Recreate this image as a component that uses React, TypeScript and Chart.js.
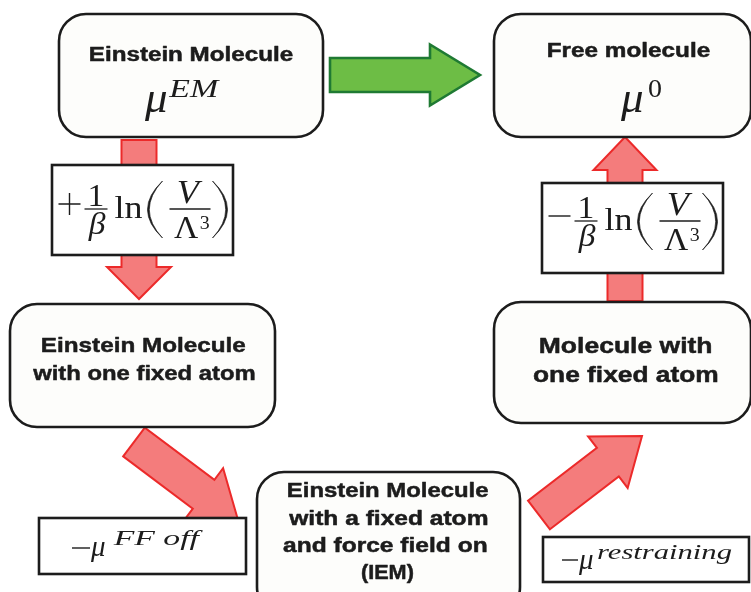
import { useEffect, useRef } from "react";
import { Chart, registerables } from "chart.js";

Chart.register(...registerables);

// ---------------- content (values / texts) ----------------
const nodeLines: string[][] = [
  ["Einstein Molecule"],
  ["Free molecule"],
  ["Einstein Molecule", "with one fixed atom"],
  ["Einstein Molecule", "with a fixed atom", "and force field on", "(IEM)"],
  ["Molecule with", "one fixed atom"],
];
const nodeMuSup: string[] = ["EM", "0", "", "", ""];
const lnSigns: string[] = ["+", "−"];
const fracNum = "1";
const fracDen = "β";
const lnWord = "ln";
const volNum = "V";
const volDen = "Λ";
const volPow = "3";
const muSigns: string[] = ["−", "−"];
const muSups: string[] = ["FF off", "restraining"];

// ---------------- layout (diagram coordinates) ----------------
const W = 751;
const H = 592;
const nodeRects: number[][] = [
  [59, 14, 323, 137],
  [494, 14, 751, 137],
  [10, 304, 275, 427],
  [257, 472, 520, 614],
  [494, 302, 751, 423],
];
const nodeFont: number[] = [20, 20, 21, 20.5, 22];
const nodeLineCx: number[][] = [[191.5], [629], [143.5, 143.5], [388, 387.5, 385, 387.5], [626, 625.5]];
const nodeLineBase: number[][] = [[61], [57], [352, 380], [497, 525, 552, 579], [353, 382]];
const nodeLineW: number[][] = [[203], [162], [203, 223], [200, 199, 204, 51], [172, 185]];
// mu symbol: [muRight, muBase, supLeft, supWidth, supBase]
const nodeMuPos: number[][] = [
  [167, 112, 168, 52, 97],
  [643, 112, 648, 14, 97],
];

const lnRects: number[][] = [
  [52, 165, 233, 255],
  [542, 183, 723, 273],
];
const lnCenters: number[][] = [
  [142.5, 209],
  [632.5, 221],
];
const muRects: number[][] = [
  [39, 518, 246, 574],
  [543, 537, 749, 582],
];
// [minusL, minusR, minusY, muLeft, muBase, supLeft, supW, supBase]
const muPos: number[][] = [
  [72, 90, 548, 90, 556, 112, 91, 545],
  [562, 578, 560, 578, 569, 597, 135, 559],
];

// arrows: from(x,y), to(x,y), shaft width, head width, head length
const arrowFrom: number[][] = [[330, 75], [139, 140], [134, 442], [539, 515], [625, 301]];
const arrowTo: number[][] = [[480, 75], [139, 299], [238, 520], [642, 436], [625, 137]];
const arrowDims: number[][] = [[34, 61, 50], [35, 64, 32], [36, 65, 43], [36, 65, 43], [35, 63, 33]];
const arrowKind: string[] = ["green", "red", "red", "red", "red"];

const COLORS: Record<string, [string, string]> = {
  green: ["#6dbd45", "#1f7a33"],
  red: ["#f47c7c", "#ec2a2a"],
};
const INK = "#1c1c1c";
const SANS = '"Liberation Sans", Arial, sans-serif';
const SERIF = '"Liberation Serif", "Times New Roman", serif';

function inkText(
  ctx: CanvasRenderingContext2D,
  text: string,
  left: number,
  base: number,
  font: string,
  width: number,
  heavy = 0
) {
  ctx.font = font;
  const m = ctx.measureText(text);
  const ink = m.actualBoundingBoxRight + m.actualBoundingBoxLeft;
  const sx = ink > 0 && width > 0 ? width / ink : 1;
  ctx.save();
  ctx.translate(left + m.actualBoundingBoxLeft * sx, base);
  ctx.scale(sx, 1);
  ctx.textAlign = "left";
  ctx.textBaseline = "alphabetic";
  ctx.fillText(text, 0, 0);
  if (heavy > 0) {
    ctx.lineWidth = heavy;
    ctx.strokeStyle = ctx.fillStyle as string;
    ctx.lineJoin = "round";
    ctx.strokeText(text, 0, 0);
  }
  ctx.restore();
}

function centerInk(
  ctx: CanvasRenderingContext2D,
  text: string,
  cx: number,
  base: number,
  font: string,
  sx: number
) {
  ctx.font = font;
  const m = ctx.measureText(text);
  const ink = (m.actualBoundingBoxRight + m.actualBoundingBoxLeft) * sx;
  inkText(ctx, text, cx - ink / 2, base, font, ink);
}

function rightInk(ctx: CanvasRenderingContext2D, text: string, right: number, base: number, font: string) {
  ctx.font = font;
  const m = ctx.measureText(text);
  const ink = m.actualBoundingBoxRight + m.actualBoundingBoxLeft;
  inkText(ctx, text, right - ink, base, font, 0);
}

function roundRect(ctx: CanvasRenderingContext2D, x0: number, y0: number, x1: number, y1: number, r: number) {
  ctx.beginPath();
  ctx.moveTo(x0 + r, y0);
  ctx.lineTo(x1 - r, y0);
  ctx.arcTo(x1, y0, x1, y0 + r, r);
  ctx.lineTo(x1, y1 - r);
  ctx.arcTo(x1, y1, x1 - r, y1, r);
  ctx.lineTo(x0 + r, y1);
  ctx.arcTo(x0, y1, x0, y1 - r, r);
  ctx.lineTo(x0, y0 + r);
  ctx.arcTo(x0, y0, x0 + r, y0, r);
  ctx.closePath();
}

function paren(ctx: CanvasRenderingContext2D, l: number, r: number, t: number, b: number, left: boolean) {
  const mid = (t + b) / 2;
  const th = 1.8;
  ctx.beginPath();
  if (left) {
    ctx.moveTo(r, t);
    ctx.quadraticCurveTo(2 * l - r, mid, r, b);
    ctx.quadraticCurveTo(2 * (l + th) - r, mid, r, t);
  } else {
    ctx.moveTo(l, t);
    ctx.quadraticCurveTo(2 * r - l, mid, l, b);
    ctx.quadraticCurveTo(2 * (r - th) - l, mid, l, t);
  }
  ctx.closePath();
  ctx.fill();
  ctx.lineWidth = 0.7;
  ctx.stroke();
}

const diagramPlugin = {
  id: "diagram",
  afterDraw(chart: any) {
    const ctx: CanvasRenderingContext2D = chart.ctx;
    const xs = chart.scales.x;
    const ys = chart.scales.y;
    const px = (v: number) => xs.getPixelForValue(v);
    const py = (v: number) => ys.getPixelForValue(v);

    ctx.save();
    ctx.lineJoin = "miter";

    // arrows
    arrowFrom.forEach((f, i) => {
      const t = arrowTo[i];
      const [sw, hw, hl] = arrowDims[i];
      const x0 = px(f[0]), y0 = py(f[1]), x1 = px(t[0]), y1 = py(t[1]);
      const len = Math.hypot(x1 - x0, y1 - y0);
      const dx = (x1 - x0) / len, dy = (y1 - y0) / len;
      const nx = -dy, ny = dx;
      const bx = x1 - dx * hl, by = y1 - dy * hl;
      const pts = [
        [x0 + nx * sw / 2, y0 + ny * sw / 2],
        [bx + nx * sw / 2, by + ny * sw / 2],
        [bx + nx * hw / 2, by + ny * hw / 2],
        [x1, y1],
        [bx - nx * hw / 2, by - ny * hw / 2],
        [bx - nx * sw / 2, by - ny * sw / 2],
        [x0 - nx * sw / 2, y0 - ny * sw / 2],
      ];
      const [fill, stroke] = COLORS[arrowKind[i]];
      ctx.beginPath();
      pts.forEach((p, k) => (k === 0 ? ctx.moveTo(p[0], p[1]) : ctx.lineTo(p[0], p[1])));
      ctx.closePath();
      ctx.fillStyle = fill;
      ctx.fill();
      ctx.strokeStyle = stroke;
      ctx.lineWidth = arrowKind[i] === "green" ? 2.6 : 2;
      ctx.stroke();
    });

    // formula boxes (ln terms)
    lnRects.forEach((r, i) => {
      const x0 = px(r[0]), y0 = py(r[1]), x1 = px(r[2]), y1 = py(r[3]);
      ctx.fillStyle = "#ffffff";
      ctx.fillRect(x0, y0, x1 - x0, y1 - y0);
      ctx.strokeStyle = INK;
      ctx.lineWidth = 2.6;
      ctx.strokeRect(x0, y0, x1 - x0, y1 - y0);

      const cx = px(lnCenters[i][0]);
      const cy = py(lnCenters[i][1]);
      ctx.fillStyle = INK;
      ctx.strokeStyle = INK;
      ctx.lineWidth = 1.4;
      // sign
      ctx.beginPath();
      ctx.moveTo(cx - 84, cy - 5);
      ctx.lineTo(cx - 62, cy - 5);
      if (lnSigns[i] === "+") {
        ctx.moveTo(cx - 73, cy - 16);
        ctx.lineTo(cx - 73, cy + 6);
      }
      ctx.stroke();
      // 1/beta
      centerInk(ctx, fracNum, cx - 46, cy - 3, `32px ${SERIF}`, 1.05);
      ctx.beginPath();
      ctx.moveTo(cx - 58, cy);
      ctx.lineTo(cx - 35, cy);
      ctx.lineWidth = 1.3;
      ctx.stroke();
      centerInk(ctx, fracDen, cx - 46, cy + 25, `italic 32px ${SERIF}`, 1.05);
      // ln
      inkText(ctx, lnWord, cx - 28, cy + 9, `32px ${SERIF}`, 28);
      // parens
      paren(ctx, cx + 5, cx + 20, cy - 28, cy + 29, true);
      paren(ctx, cx + 70, cx + 85, cy - 28, cy + 29, false);
      // V / Lambda^3
      centerInk(ctx, volNum, cx + 48, cy - 6, `italic 33px ${SERIF}`, 1.1);
      ctx.beginPath();
      ctx.moveTo(cx + 27, cy);
      ctx.lineTo(cx + 68, cy);
      ctx.lineWidth = 1.3;
      ctx.stroke();
      centerInk(ctx, volDen, cx + 43.5, cy + 29, `32px ${SERIF}`, 1.05);
      centerInk(ctx, volPow, cx + 62, cy + 20, `19px ${SERIF}`, 1.05);
    });

    // formula boxes (mu terms)
    muRects.forEach((r, i) => {
      const x0 = px(r[0]), y0 = py(r[1]), x1 = px(r[2]), y1 = py(r[3]);
      ctx.fillStyle = "#ffffff";
      ctx.fillRect(x0, y0, x1 - x0, y1 - y0);
      ctx.strokeStyle = INK;
      ctx.lineWidth = 2.6;
      ctx.strokeRect(x0, y0, x1 - x0, y1 - y0);
      const p = muPos[i];
      ctx.fillStyle = INK;
      ctx.lineWidth = 1.4;
      if (muSigns[i] === "−") {
        ctx.beginPath();
        ctx.moveTo(px(p[0]), py(p[2]));
        ctx.lineTo(px(p[1]), py(p[2]));
        ctx.stroke();
      }
      inkText(ctx, "μ", px(p[3]), py(p[4]), `italic 29px ${SERIF}`, 0);
      inkText(ctx, muSups[i], px(p[5]), py(p[7]), `italic 20px ${SERIF}`, p[6]);
    });

    // nodes
    nodeRects.forEach((r, i) => {
      const x0 = px(r[0]), y0 = py(r[1]), x1 = px(r[2]), y1 = py(r[3]);
      roundRect(ctx, x0, y0, x1, y1, 27);
      ctx.fillStyle = "#fdfdfb";
      ctx.fill();
      ctx.strokeStyle = INK;
      ctx.lineWidth = 2.6;
      ctx.stroke();
      ctx.fillStyle = INK;
      nodeLines[i].forEach((line, k) => {
        const w = nodeLineW[i][k];
        inkText(
          ctx,
          line,
          px(nodeLineCx[i][k]) - w / 2,
          py(nodeLineBase[i][k]),
          `bold ${nodeFont[i]}px ${SANS}`,
          w,
          0.5
        );
      });
      if (nodeMuSup[i]) {
        const p = nodeMuPos[i];
        rightInk(ctx, "μ", px(p[0]), py(p[1]), `italic 45px ${SERIF}`);
        const supFont = /^[0-9]+$/.test(nodeMuSup[i]) ? `26px ${SERIF}` : `italic 26px ${SERIF}`;
        inkText(ctx, nodeMuSup[i], px(p[2]), py(p[4]), supFont, p[3]);
      }
    });

    ctx.restore();
  },
};

export default function App() {
  const ref = useRef<HTMLCanvasElement | null>(null);

  useEffect(() => {
    if (!ref.current) return;
    const chart = new Chart(ref.current, {
      type: "scatter",
      data: { datasets: [] },
      options: {
        animation: false,
        responsive: false,
        maintainAspectRatio: false,
        events: [],
        layout: { padding: 0 },
        plugins: { legend: { display: false }, tooltip: { enabled: false } },
        scales: {
          x: { type: "linear", min: 0, max: W, display: false },
          y: { type: "linear", min: 0, max: H, reverse: true, display: false },
        },
      },
      plugins: [diagramPlugin],
    });
    return () => chart.destroy();
  }, []);

  return (
    <div style={{ position: "absolute", left: 0, top: 0, width: W, height: H, background: "#ffffff" }}>
      <canvas ref={ref} width={W} height={H} style={{ display: "block" }} />
    </div>
  );
}
